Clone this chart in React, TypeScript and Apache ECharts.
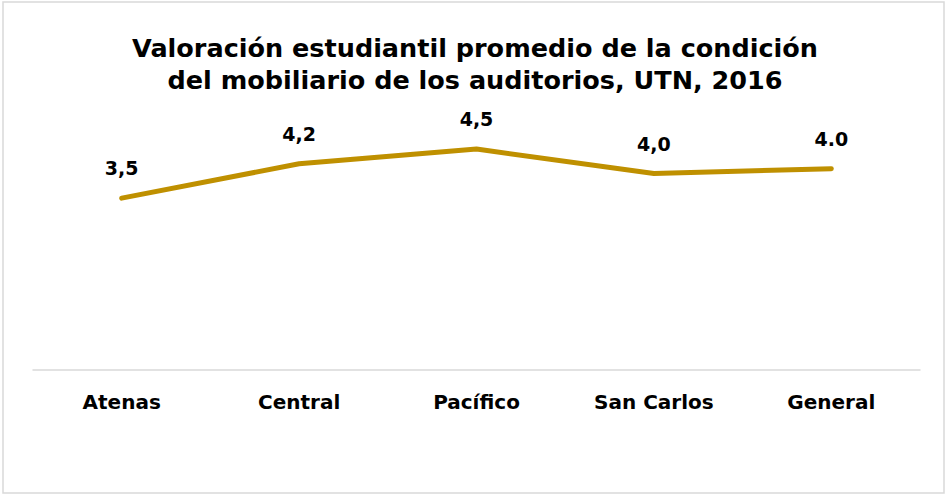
import React, { useEffect, useRef } from "react";
import * as echarts from "echarts";

const categories = ["Atenas", "Central", "Pacífico", "San Carlos", "General"];
const values = [3.5, 4.2, 4.5, 4.0, 4.1];
const valueLabels = ["3,5", "4,2", "4,5", "4,0", "4.0"];
const titleText = "Valoración estudiantil promedio de la condición\ndel mobiliario de los auditorios, UTN, 2016";

const FONT = "'DejaVu Sans', 'Noto Sans', sans-serif";

export default function App() {
  const ref = useRef<HTMLDivElement>(null);
  useEffect(() => {
    document.body.style.margin = "0";
    if (!ref.current) return;
    const chart = echarts.init(ref.current, null, { renderer: "svg" });
    chart.setOption({
      animation: false,
      backgroundColor: "#ffffff",
      title: {
        text: titleText,
        left: "center",
        top: 27,
        textStyle: {
          fontFamily: FONT,
          fontSize: 25.5,
          fontWeight: "bold",
          color: "#000000",
          lineHeight: 32,
        },
      },
      graphic: [
        {
          type: "rect",
          shape: { x: 3, y: 2, width: 941, height: 491 },
          style: { fill: "none", stroke: "#d9d9d9", lineWidth: 1.5 },
          silent: true,
        },
      ],
      grid: { left: 33, right: 30, top: 124.5, bottom: 126 },
      xAxis: {
        type: "category",
        data: categories,
        boundaryGap: true,
        axisLine: { show: true, lineStyle: { color: "#d9d9d9", width: 1.5 } },
        axisTick: { show: false },
        axisLabel: {
          margin: 22,
          fontFamily: FONT,
          fontSize: 20,
          fontWeight: "bold",
          color: "#000000",
        },
      },
      yAxis: {
        type: "value",
        min: 0,
        max: 5,
        show: false,
        splitLine: { show: false },
      },
      series: [
        {
          type: "line",
          data: values,
          showSymbol: true,
          symbol: "circle",
          symbolSize: 1,
          itemStyle: { color: "rgba(0,0,0,0)" },
          lineStyle: { color: "#BF9000", width: 5, cap: "round", join: "round" },
          label: {
            show: true,
            position: "top",
            distance: 20,
            fontFamily: FONT,
            fontSize: 19,
            fontWeight: "bold",
            color: "#000000",
            formatter: (p: any) => valueLabels[p.dataIndex],
          },
        },
      ],
    });
    return () => chart.dispose();
  }, []);
  return <div ref={ref} style={{ width: 950, height: 496 }} />;
}
